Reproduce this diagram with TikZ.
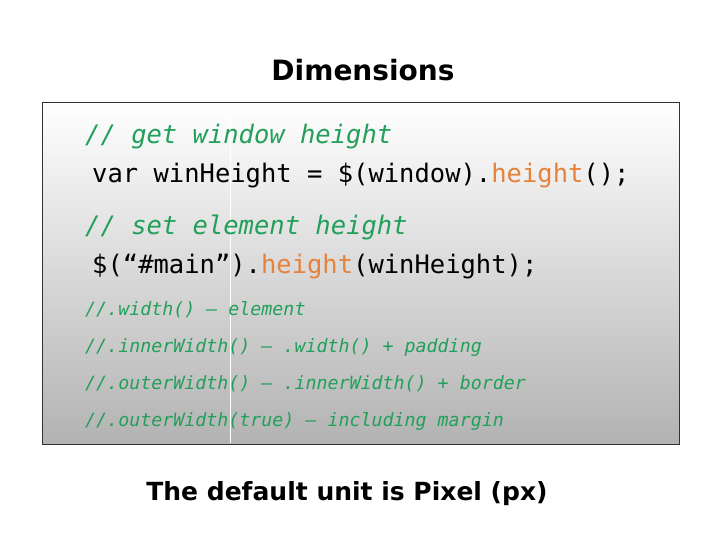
\documentclass[tikz,border=0pt]{standalone}
\usepackage{fontspec}
\setmainfont{DejaVu Sans}
\setmonofont{DejaVu Sans Mono}
\begin{document}
\begin{tikzpicture}[x=1pt,y=-1pt,
  big/.style={anchor=base west,inner sep=0,font=\ttfamily\fontsize{25.5}{25.5}\selectfont},
  bigc/.style={big,text=cgreen,font=\ttfamily\itshape\fontsize{25.5}{25.5}\selectfont},
  small/.style={anchor=base west,inner sep=0,text=cgreen,font=\ttfamily\itshape\fontsize{18.3}{18.3}\selectfont},
  ttl/.style={font=\bfseries\fontsize{28}{28}\selectfont,inner sep=0}]
\definecolor{cgreen}{RGB}{34,160,90}
\definecolor{corange}{RGB}{230,130,60}
\useasboundingbox (0,0) rectangle (720,540);
\node[ttl] (title) at (363,70) {Dimensions};
\shade[top color=white,bottom color=black!30] (42,102) rectangle (679,444);
\draw[white,line width=1pt] (230,103) -- (230,443);
\draw[black!80,line width=0.8pt] (42,102) rectangle (679,444);
\node[bigc] (c1) at (85,144) {// get window height};
\node[big] (l1) at (92,183) {var winHeight = \$(window).\textcolor{corange}{height}();};
\node[bigc] (c2) at (85,235) {// set element height};
\node[big] (l2) at (92,273) {\$(“\#main”).\textcolor{corange}{height}(winHeight);};
\node[small] (s1) at (85,315) {//.width() – element};
\node[small] (s2) at (85,352) {//.innerWidth() – .width() + padding};
\node[small] (s3) at (85,389) {//.outerWidth() – .innerWidth() + border};
\node[small] (s4) at (85,426) {//.outerWidth(true) – including margin};
\node[ttl,font=\bfseries\fontsize{25}{25}\selectfont] (foot) at (347,494) {The default unit is Pixel (px)};
\end{tikzpicture}
\end{document}
